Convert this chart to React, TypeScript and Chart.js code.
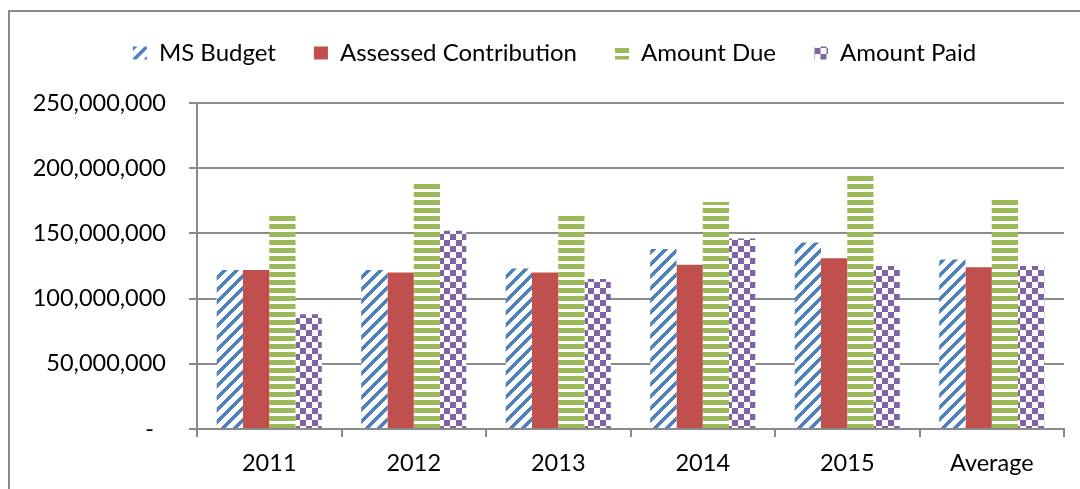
import React, { useEffect, useRef } from 'react';
import { Chart, registerables } from 'chart.js';

Chart.register(...registerables);

const categories = ['2011', '2012', '2013', '2014', '2015', 'Average'];
const msBudget = [122e6, 122e6, 123e6, 138e6, 143e6, 130e6];
const assessedContribution = [122e6, 120e6, 120e6, 126e6, 131e6, 124e6];
const amountDue = [164e6, 189e6, 164e6, 174e6, 195e6, 176e6];
const amountPaid = [88e6, 152e6, 115e6, 146e6, 125e6, 125e6];
const seriesNames = ['MS Budget', 'Assessed Contribution', 'Amount Due', 'Amount Paid'];
const yMax = 250e6;
const yStep = 50e6;

const BLUE = '#4F81BD';
const RED = '#C0504D';
const GREEN = '#9BBB59';
const PURPLE = '#8064A2';
const GRID = '#8a8a8a';

function tile(color: string, paint: (x: number, y: number) => boolean, w: number, h: number) {
  const c = document.createElement('canvas');
  c.width = w;
  c.height = h;
  const g = c.getContext('2d')!;
  g.fillStyle = '#ffffff';
  g.fillRect(0, 0, w, h);
  g.fillStyle = color;
  for (let y = 0; y < h; y++) {
    for (let x = 0; x < w; x++) {
      if (paint(x, y)) g.fillRect(x, y, 1, 1);
    }
  }
  return g.createPattern(c, 'repeat') as CanvasPattern;
}

export default function App() {
  const ref = useRef<HTMLCanvasElement | null>(null);

  useEffect(() => {
    const canvas = ref.current!;
    const diag = tile(BLUE, (x, y) => (x + y) % 12 < 5, 12, 12);
    const horiz = tile(GREEN, (_x, y) => y < 5, 8, 8);
    const checker = tile(PURPLE, (x, y) => ((Math.floor(x / 6) + Math.floor(y / 6)) % 2) === 0, 12, 12);

    const legendShift = 22.5;
    const legendSpacer = {
      id: 'legendSpacer',
      beforeInit(chart: any) {
        const legend = chart.legend;
        if (!legend) return;
        const origFit = legend.fit;
        legend.fit = function fit() {
          origFit.call(this);
          this.height += 28;
        };
        const origDraw = legend.draw;
        legend.draw = function draw() {
          const ctx = this.ctx;
          ctx.save();
          ctx.translate(legendShift, 0);
          origDraw.call(this);
          ctx.restore();
        };
      },
    };

    const tickFont = { family: 'Lato', size: 23.5 };

    const chart = new Chart(canvas, {
      type: 'bar',
      data: {
        labels: categories,
        datasets: [
          { label: seriesNames[0], data: msBudget, backgroundColor: diag as any, borderWidth: 0 },
          { label: seriesNames[1], data: assessedContribution, backgroundColor: RED, borderWidth: 0 },
          { label: seriesNames[2], data: amountDue, backgroundColor: horiz as any, borderWidth: 0 },
          { label: seriesNames[3], data: amountPaid, backgroundColor: checker as any, borderWidth: 0 },
        ],
      },
      options: {
        responsive: false,
        animation: false,
        devicePixelRatio: 1,
        datasets: { bar: { categoryPercentage: 4 / 5.5, barPercentage: 1 } },
        layout: { padding: { left: 0, right: 16, top: 3, bottom: 0 } },
        plugins: {
          legend: {
            position: 'top',
            labels: {
              boxWidth: 14,
              boxHeight: 13,
              padding: 38,
              color: '#000000',
              font: { family: 'Lato', size: 24 },
            },
          },
          tooltip: { enabled: false },
        },
        scales: {
          x: {
            offset: true,
            grid: {
              display: true,
              offset: true,
              drawOnChartArea: false,
              drawTicks: true,
              tickLength: 8,
              color: GRID,
              lineWidth: 2,
            },
            border: { display: true, color: GRID, width: 2 },
            ticks: {
              color: '#000000',
              font: tickFont,
              padding: 12,
              maxRotation: 0,
            },
            afterFit(scale: any) {
              scale.height = 60;
            },
          },
          y: {
            min: 0,
            max: yMax,
            ticks: {
              stepSize: yStep,
              color: '#000000',
              font: tickFont,
              padding: 23,
              callback: (v: any) => (Number(v) === 0 ? '-  ' : Number(v).toLocaleString('en-US')),
            },
            grid: { color: GRID, lineWidth: 2, tickLength: 8, drawTicks: true },
            border: { display: true, color: GRID, width: 2 },
            afterFit(scale: any) {
              scale.width = 197;
            },
          },
        },
      },
      plugins: [legendSpacer],
    });

    return () => chart.destroy();
  }, []);

  return (
    <>
      <div
        style={{
          position: 'fixed',
          left: 8,
          top: 10,
          width: 1300,
          height: 700,
          border: `2px solid ${GRID}`,
          boxSizing: 'border-box',
          background: '#ffffff',
        }}
      />
      <canvas
        ref={ref}
        width={1080}
        height={489}
        style={{ position: 'fixed', left: 0, top: 0, width: 1080, height: 489 }}
      />
    </>
  );
}
